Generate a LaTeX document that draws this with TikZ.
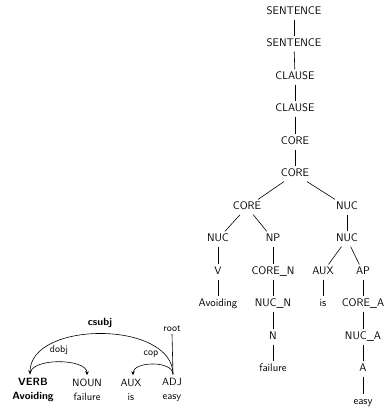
\documentclass[tikz,border=0pt]{standalone}
\usetikzlibrary{arrows.meta}
\tikzset{
  cat/.style={font=\sffamily\fontsize{11}{13}\selectfont, inner sep=3pt, text height=1.6ex, text depth=.45ex},
  word/.style={font=\sffamily\fontsize{10.5}{14}\selectfont, align=center, inner sep=1pt, outer ysep=3pt},
  rel/.style={font=\sffamily\fontsize{10}{11}\selectfont, inner sep=1pt},
  arc/.style={-{Stealth[length=4pt,width=3.5pt]}, line width=0.6pt}
}
\begin{document}
\begin{tikzpicture}[x=1pt,y=1pt]
				\useasboundingbox (0,0) rectangle (385,-408);
				% constituent tree
				\node[cat] (s1) at (294,-12) {SENTENCE};
				\node[cat] (s2) at (294,-44) {SENTENCE};
				\node[cat] (cl1) at (295,-77) {CLAUSE};
				\node[cat] (cl2) at (295,-109) {CLAUSE};
				\node[cat] (co1) at (295,-142) {CORE};
				\node[cat] (co2) at (295,-174) {CORE};
				\node[cat] (co3) at (247,-207) {CORE};
				\node[cat] (nuc1) at (347,-207) {NUC};
				\node[cat] (nuc2) at (218,-239) {NUC};
				\node[cat] (np) at (273,-239) {NP};
				\node[cat] (nuc3) at (347,-239) {NUC};
				\node[cat] (v) at (218,-272) {V};
				\node[cat] (coren) at (273,-272) {CORE\_N};
				\node[cat] (aux) at (323,-272) {AUX};
				\node[cat] (ap) at (363,-272) {AP};
				\node[cat] (avoiding) at (218,-304) {Avoiding};
				\node[cat] (nucn) at (273,-304) {NUC\_N};
				\node[cat] (is) at (323,-304) {is};
				\node[cat] (corea) at (363,-304) {CORE\_A};
				\node[cat] (n) at (273,-337) {N};
				\node[cat] (nuca) at (363,-337) {NUC\_A};
				\node[cat] (failure) at (273,-369) {failure};
				\node[cat] (a) at (363,-369) {A};
				\node[cat] (easy) at (363,-402) {easy};
				\foreach \p/\c in {s1/s2, s2/cl1, cl1/cl2, cl2/co1, co1/co2, co2/co3, co2/nuc1,
				                   co3/nuc2, co3/np, nuc1/nuc3, nuc2/v, v/avoiding, np/coren,
				                   coren/nucn, nucn/n, n/failure, nuc3/aux, nuc3/ap, aux/is,
				                   ap/corea, corea/nuca, nuca/a, a/easy}
				  \draw[line width=0.6pt] (\p) -- (\c);
				% dependency graph
				\node[word] (verb) at (33,-390) {\textbf{VERB}\\\textbf{Avoiding}};
				\node[word] (noun) at (87,-390) {NOUN\\failure};
				\node[word] (auxd) at (131,-390) {AUX\\is};
				\node[word] (adj) at (172,-390) {ADJ\\easy};
				\coordinate (root) at (172,-334);
				\draw[arc] ([xshift=1pt]adj.north) .. controls +(0,54) and +(0,54) .. ([xshift=-3pt]verb.north);
				\draw[arc] ([xshift=-3pt]verb.north) .. controls +(0,17) and +(0,17) .. (noun.north);
				\draw[arc] ([xshift=1pt]adj.north) .. controls +(0,14) and +(0,14) .. ([xshift=2pt]auxd.north);
				\draw[line width=0.6pt] ([xshift=1pt]adj.north) -- (root);
				\node[rel, font=\sffamily\bfseries\fontsize{10.5}{11}\selectfont] (csubj) at (100,-323) {csubj};
				\node[rel] (dobj) at (59,-350) {dobj};
				\node[rel] (cop) at (151,-354) {cop};
				\node[rel, above=1pt] (rootl) at (root) {root};
			\end{tikzpicture}
\end{document}
